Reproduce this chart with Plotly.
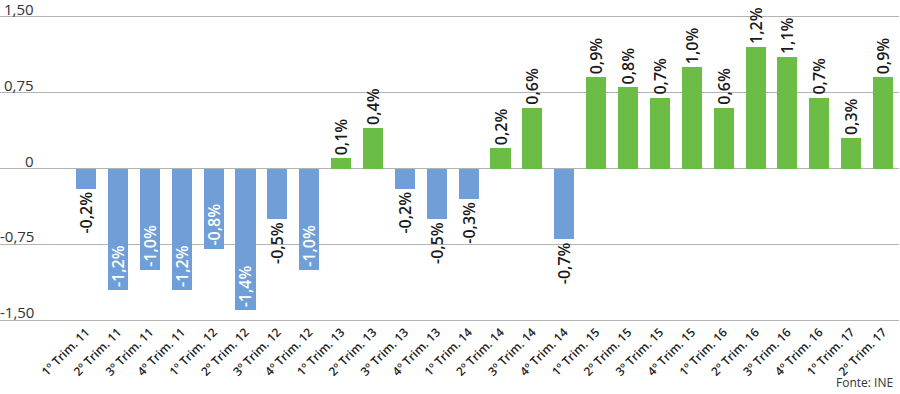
import plotly.graph_objects as go

categories = ["1º Trim. 11", "2º Trim. 11", "3º Trim. 11", "4º Trim. 11",
              "1º Trim. 12", "2º Trim. 12", "3º Trim. 12", "4º Trim. 12",
              "1º Trim. 13", "2º Trim. 13", "3º Trim. 13", "4º Trim. 13",
              "1º Trim. 14", "2º Trim. 14", "3º Trim. 14", "4º Trim. 14",
              "1º Trim. 15", "2º Trim. 15", "3º Trim. 15", "4º Trim. 15",
              "1º Trim. 16", "2º Trim. 16", "3º Trim. 16", "4º Trim. 16",
              "1º Trim. 17", "2º Trim. 17"]
values = [-0.2, -1.2, -1.0, -1.2, -0.79, -1.4, -0.5, -1.0,
          0.1, 0.4, -0.2, -0.5, -0.3, 0.2, 0.6, -0.7,
          0.9, 0.8, 0.7, 1.0, 0.6, 1.2, 1.1, 0.7, 0.3, 0.9]
labels = ["-0,2%", "-1,2%", "-1,0%", "-1,2%", "-0,8%", "-1,4%", "-0,5%", "-1,0%",
          "0,1%", "0,4%", "-0,2%", "-0,5%", "-0,3%", "0,2%", "0,6%", "-0,7%",
          "0,9%", "0,8%", "0,7%", "1,0%", "0,6%", "1,2%", "1,1%", "0,7%", "0,3%", "0,9%"]
y_ticks = [1.5, 0.75, 0, -0.75, -1.5]
y_tick_labels = ["1,50", "0,75", "0", "-0,75", "-1,50"]
source = "Fonte: INE"

BLUE = "#6f9fd6"
GREEN = "#6cbd45"

colors = [GREEN if v > 0 else BLUE for v in values]
positions = ["inside" if v <= -0.75 else "outside" for v in values]
tcolors = ["white" if p == "inside" else "#1a1a1a" for p in positions]
lab_font = dict(family="Open Sans", size=16, color=tcolors, weight=600)

fig = go.Figure(go.Bar(
    x=list(range(len(categories))), y=values,
    marker=dict(color=colors, line=dict(width=0)),
    width=0.63,
    text=labels, textposition=positions, textangle=-90,
    insidetextanchor="end",
    textfont=lab_font, outsidetextfont=lab_font, insidetextfont=lab_font,
    cliponaxis=False,
    constraintext="none",
    hoverinfo="skip",
))

annotations = []
for v, t in zip(y_ticks, y_tick_labels):
    annotations.append(dict(x=36 / 900, xref="paper", y=v, yref="y",
                            text=t, showarrow=False, xanchor="right", yanchor="bottom",
                            font=dict(family="Open Sans", size=15, color="#333333"),
                            yshift=-4))
annotations.append(dict(x=0.995, xref="paper", y=-0.232, yref="paper", text=source,
                        showarrow=False, xanchor="right", yanchor="bottom",
                        font=dict(family="Open Sans", size=12, color="#333333")))

fig.update_layout(
    width=900, height=394,
    margin=dict(l=0, r=1, t=15, b=72),
    plot_bgcolor="white", paper_bgcolor="white",
    showlegend=False,
    bargap=0,
    annotations=annotations,
    xaxis=dict(range=[-2.7, 25.5], tickmode="array",
               tickvals=list(range(len(categories))), ticktext=categories,
               tickangle=-45, showgrid=False, zeroline=False, showline=False,
               ticks="", tickfont=dict(family="Open Sans", size=12, color="#222222", weight=600)),
    yaxis=dict(range=[-1.515, 1.515], tickvals=y_ticks, showticklabels=False,
               showgrid=True, gridcolor="#b3b3b3", gridwidth=1.5,
               zeroline=True, zerolinecolor="#b3b3b3", zerolinewidth=1.5,
               showline=False),
)

fig.write_html("out.html", config={"displayModeBar": False, "staticPlot": True},
               post_script="document.body.style.margin='0';document.body.style.overflow='hidden';")
